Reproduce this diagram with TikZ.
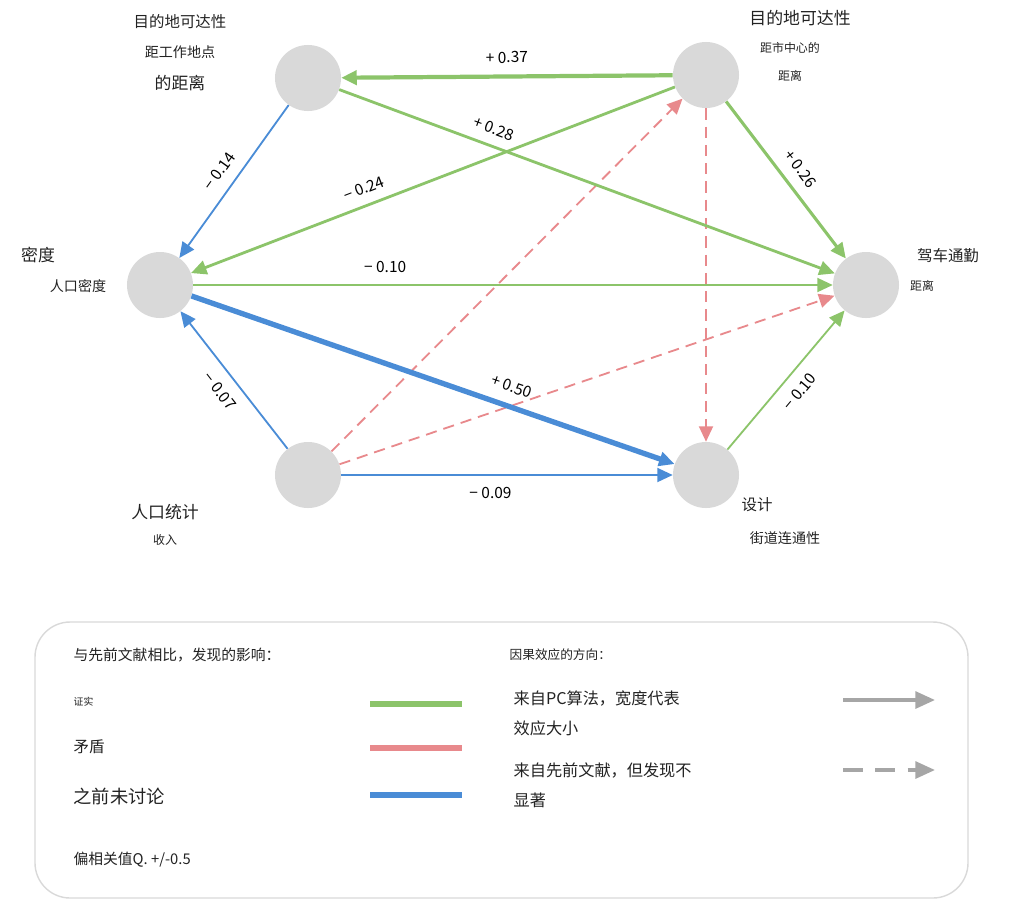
\documentclass[tikz,border=0pt]{standalone}
\usepackage{fontspec}
\setmainfont{Noto Sans CJK SC}
\usetikzlibrary{arrows.meta}
\definecolor{gr}{HTML}{8CC46A}
\definecolor{rd}{HTML}{E8898C}
\definecolor{bl}{HTML}{4A8CD6}
\definecolor{nd}{HTML}{D9D9D9}
\definecolor{tx}{HTML}{222222}
\begin{document}
\begin{tikzpicture}[x=0.025cm,y=-0.025cm,
  circ/.style={circle,fill=nd,minimum size=1.65cm,inner sep=0},
  lab/.style={font=\fontsize{11}{13}\selectfont,text=tx,inner sep=1pt},
  sm/.style={font=\fontsize{8.5}{10}\selectfont,text=tx,inner sep=1pt},
  el/.style={font=\fontsize{11}{13}\selectfont,text=black,sloped,inner sep=1pt},
  arr/.style={-{Triangle[length=11pt,width=10pt]}},
  thinA/.style={arr,line width=1.3pt},
  thickA/.style={arr,line width=2.6pt},
  dsh/.style={arr,rd,line width=1.3pt,dash pattern=on 8pt off 5pt}]
\useasboundingbox (0,0) rectangle (1024,910);
\node[circ] (A) at (308,78) {};
\node[circ] (B) at (706,75) {};
\node[circ] (C) at (160,285) {};
\node[circ] (D) at (866,285) {};
\node[circ] (E) at (308,475) {};
\node[circ] (F) at (706,475) {};
% text labels
\node[lab] (ta1) at (180,22) {目的地可达性};
\node[sm,font=\fontsize{10}{12}\selectfont] (ta2) at (180,52) {距工作地点};
\node[lab,font=\fontsize{12}{14}\selectfont] (ta3) at (180,83) {的距离};
\node[lab,font=\fontsize{12}{14}\selectfont] (tb1) at (800,18) {目的地可达性};
\node[sm] (tb2) at (790,48) {距市中心的};
\node[sm] (tb3) at (790,76) {距离};
\node[lab,font=\fontsize{12}{14}\selectfont] (tc1) at (38,255) {密度};
\node[sm,font=\fontsize{10}{12}\selectfont] (tc2) at (78,286) {人口密度};
\node[lab] (td1) at (948,256) {驾车通勤};
\node[sm] (td2) at (922,286) {距离};
\node[lab,font=\fontsize{12}{14}\selectfont] (te1) at (165,512) {人口统计};
\node[sm] (te2) at (165,540) {收入};
\node[lab] (tf1) at (757,505) {设计};
\node[sm,font=\fontsize{10}{12}\selectfont] (tf2) at (785,538) {街道连通性};
% edges
\draw[dsh] (E) -- (B);
\draw[dsh] (E) -- (D);
\draw[dsh] (B) -- (F);
\draw[thickA,gr,line width=3pt] (B) -- node[el,above=7pt,pos=0.5] {+ 0.37} (A);
\draw[thinA,gr,line width=2pt] (A) -- node[el,above=6pt,pos=0.3] {+ 0.28} (D);
\draw[thinA,gr,line width=2pt] (B) -- node[el,above=6pt,pos=0.63] {− 0.24} (C);
\draw[thinA,gr,line width=2.2pt] (B) -- node[el,above=7pt] {+ 0.26} (D);
\draw[thinA,bl] (A) -- node[el,above=7pt] {− 0.14} (C);
\draw[thinA,gr] (C) -- node[el,above=7pt,pos=0.3] {− 0.10} (D);
\draw[arr,bl,line width=3.8pt] (C) -- node[el,above=7pt,pos=0.65] {+ 0.50} (F);
\draw[thinA,bl] (E) -- node[el,below=7pt] {− 0.07} (C);
\draw[thinA,bl] (E) -- node[el,below=7pt,pos=0.45] {− 0.09} (F);
\draw[thinA,gr] (F) -- node[el,below=7pt] {− 0.10} (D);
% legend
\draw[rounded corners=25pt,draw=nd,line width=1pt] (35,622) rectangle (968,898);
\node[sm,font=\fontsize{10.5}{12}\selectfont,anchor=west] (l1) at (72,655) {与先前文献相比，发现的影响：};
\node[sm,font=\fontsize{7}{9}\selectfont,anchor=west] (l2) at (72,702) {证实};
\node[sm,font=\fontsize{11}{12}\selectfont,anchor=west] (l3) at (72,747) {矛盾};
\node[lab,font=\fontsize{13}{14}\selectfont,anchor=west] (l4) at (72,796) {之前未讨论};
\node[sm,font=\fontsize{10.5}{12}\selectfont,anchor=west] (l5) at (72,860) {偏相关值Q. +/-0.5};
\coordinate (g1) at (370,704); \coordinate (g2) at (462,704);
\coordinate (r1) at (370,748); \coordinate (r2) at (462,748);
\coordinate (b1) at (370,795); \coordinate (b2) at (462,795);
\draw[gr,line width=4pt] (g1) -- (g2);
\draw[rd,line width=4pt] (r1) -- (r2);
\draw[bl,line width=4pt] (b1) -- (b2);
\node[sm,font=\fontsize{9}{11}\selectfont,anchor=west] (l6) at (508,655) {因果效应的方向：};
\node[sm,font=\fontsize{11.5}{13}\selectfont,anchor=west] (l7) at (512,698) {来自PC算法，宽度代表};
\node[sm,font=\fontsize{11.5}{13}\selectfont,anchor=west] (l8) at (512,728) {效应大小};
\node[sm,font=\fontsize{11.5}{13}\selectfont,anchor=west] (l9) at (512,770) {来自先前文献，但发现不};
\node[sm,font=\fontsize{11.5}{13}\selectfont,anchor=west] (l10) at (512,800) {显著};
\coordinate (s1) at (843,700); \coordinate (s2) at (935,700);
\coordinate (d1) at (843,770); \coordinate (d2) at (935,770);
\draw[-{Triangle[length=14pt,width=12pt]},gray!70,line width=2.5pt] (s1) -- (s2);
\draw[-{Triangle[length=14pt,width=12pt]},gray!70,line width=2.5pt,dash pattern=on 14pt off 9pt] (d1) -- (d2);
\end{tikzpicture}
\end{document}
